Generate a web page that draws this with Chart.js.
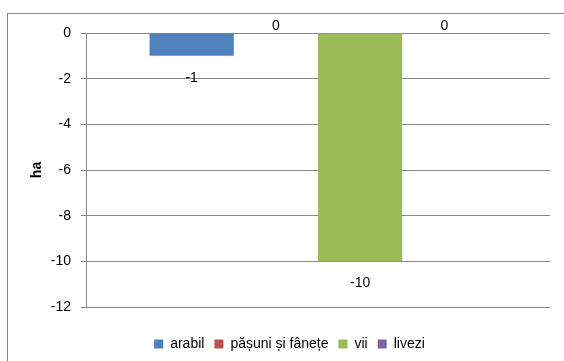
<!DOCTYPE html>
<html>
<head>
<meta charset="utf-8">
<script src="https://cdn.jsdelivr.net/npm/chart.js@4.4.1/dist/chart.umd.min.js"></script>
<style>
  html, body { margin: 0; padding: 0; background: #ffffff; }
  #wrap { position: relative; width: 564px; height: 361px; }
</style>
</head>
<body>
<div id="wrap"><canvas id="c" width="564" height="361"></canvas></div>
<script>
// Land-use change, in hectares
const categories = [''];
const seriesNames = ['arabil', 'pășuni și fânețe', 'vii', 'livezi'];
const arabil = [-1];
const pasuni = [0];
const vii = [-10];
const livezi = [0];
const yTicks = [0, -2, -4, -6, -8, -10, -12];

const colors = ['#4F81BD', '#C0504D', '#9BBB59', '#8064A2'];
const FONT = "'Liberation Sans', Arial, sans-serif";
const GRID = '#878787';

// Frame around the whole chart object
const framePlugin = {
  id: 'frame',
  beforeDraw(chart) {
    const ctx = chart.ctx;
    ctx.save();
    ctx.strokeStyle = GRID;
    ctx.lineWidth = 1;
    ctx.strokeRect(7.5, 13.5, 700, 500);
    ctx.restore();
  }
};

// Value labels: below the end of negative bars, above the zero line for zeros
const valueLabels = {
  id: 'valueLabels',
  afterDatasetsDraw(chart) {
    const ctx = chart.ctx;
    ctx.save();
    ctx.font = '14px ' + FONT;
    ctx.fillStyle = '#000000';
    ctx.textAlign = 'center';
    ctx.textBaseline = 'middle';
    chart.data.datasets.forEach((ds, i) => {
      const meta = chart.getDatasetMeta(i);
      meta.data.forEach((bar, j) => {
        const v = ds.data[j];
        const y = v < 0 ? bar.y + 22 : bar.y - 7;
        ctx.fillText(String(v), bar.x, y);
      });
    });
    ctx.restore();
  }
};

new Chart(document.getElementById('c'), {
  type: 'bar',
  data: {
    labels: categories,
    datasets: [arabil, pasuni, vii, livezi].map((d, i) => ({
      label: seriesNames[i],
      data: d,
      backgroundColor: colors[i],
      borderWidth: 0,
      categoryPercentage: 0.726,
      barPercentage: 1.0
    }))
  },
  options: {
    responsive: false,
    animation: false,
    devicePixelRatio: 1,
    layout: { padding: { top: 33, right: 14, bottom: 0, left: 29 } },
    scales: {
      x: {
        grid: { display: false },
        border: { display: false },
        ticks: { display: false },
        afterFit(scale) { scale.height = 20; }
      },
      y: {
        min: -12,
        max: 0,
        afterBuildTicks(scale) { scale.ticks = yTicks.map(v => ({ value: v })); },
        afterFit(scale) { scale.width = 57; },
        ticks: {
          color: '#000000',
          padding: 10,
          font: { family: FONT, size: 14 }
        },
        grid: { color: GRID, lineWidth: 1, tickLength: 5, drawTicks: true },
        border: { display: true, color: GRID, width: 1 },
        title: {
          display: true,
          text: 'ha',
          color: '#000000',
          padding: 0,
          font: { family: FONT, size: 14, weight: 'bold' }
        }
      }
    },
    plugins: {
      legend: {
        position: 'bottom',
        labels: {
          boxWidth: 9,
          boxHeight: 9,
          padding: 10,
          color: '#000000',
          font: { family: FONT, size: 14 }
        }
      },
      tooltip: { enabled: false }
    }
  },
  plugins: [framePlugin, valueLabels]
});
</script>
</body>
</html>
